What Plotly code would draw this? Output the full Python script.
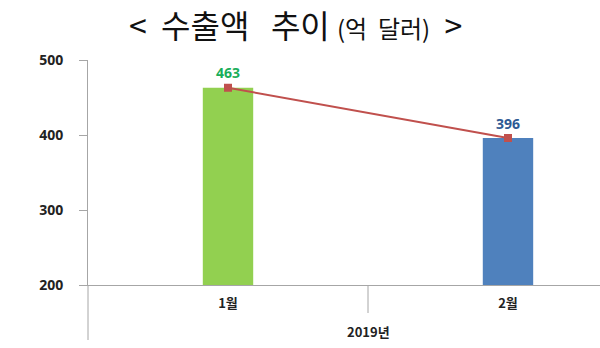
import plotly.graph_objects as go

months = ["1월", "2월"]
values = [463, 396]
year_label = "2019년"
bar_colors = ["#92D050", "#4F81BD"]
label_colors = ["#1AAE5A", "#2E5A94"]
y_ticks = [200, 300, 400, 500]

x_idx = list(range(len(months)))

fig = go.Figure()
fig.add_trace(go.Bar(
    x=x_idx, y=values, width=0.18,
    marker=dict(color=bar_colors, line=dict(width=0)),
    showlegend=False, hoverinfo="skip",
))
fig.add_trace(go.Scatter(
    x=x_idx, y=values, mode="lines+markers+text",
    line=dict(color="#C0504D", width=2),
    marker=dict(symbol="square", size=8, color="#C0504D"),
    text=[str(v) for v in values], textposition="top center",
    textfont=dict(family="Open Sans, Noto Sans CJK KR", size=14, color=label_colors, weight="bold"),
    showlegend=False,
))

y0 = 0.1964
fig.update_layout(
    width=600, height=348,
    margin=dict(l=88, r=0, t=60, b=8),
    paper_bgcolor="white", plot_bgcolor="white",
    xaxis=dict(
        range=[-0.5, 1.3286], tickmode="array", tickvals=x_idx, ticktext=months,
        ticks="",
        showline=True, linecolor="#A6A6A6", linewidth=1, showgrid=False, zeroline=False,
        tickfont=dict(family="Noto Sans CJK KR", size=13, color="#222222", weight="bold"),
        ticklabelstandoff=6,
    ),
    yaxis=dict(
        domain=[y0, 1], range=[200, 500], tickvals=y_ticks,
        ticks="outside", ticklen=8, tickcolor="#A6A6A6",
        showline=True, linecolor="#A6A6A6", linewidth=1, showgrid=False, zeroline=False,
        tickfont=dict(family="Open Sans", size=14, color="#222222", weight="bold"),
        ticklabelstandoff=13,
    ),
    shapes=[
        dict(type="line", xref="paper", yref="paper", x0=0, x1=0, y0=0, y1=y0,
             line=dict(color="#A6A6A6", width=1)),
        dict(type="line", xref="x", yref="paper", x0=0.5, x1=0.5, y0=(340 - 313) / 280, y1=y0,
             line=dict(color="#A6A6A6", width=1)),
    ],
    annotations=[
        dict(text=year_label, xref="x", yref="paper", x=0.5, y=(340 - 331) / 280, yanchor="middle",
             showarrow=False,
             font=dict(family="Noto Sans CJK KR", size=13, color="#222222", weight="bold")),
        dict(text="<&nbsp;&nbsp;수출액&nbsp;&nbsp;&nbsp;추이&nbsp;<span style='font-size:24px'>(억&nbsp;&nbsp;달러)</span>&nbsp;&nbsp;>",
             xref="paper", yref="paper", x=(295 - 88) / 512, y=1, yshift=61, yanchor="top",
             showarrow=False,
             font=dict(family="Noto Sans CJK KR", size=32, color="#111111")),
    ],
)

fig.write_html("out.html")
